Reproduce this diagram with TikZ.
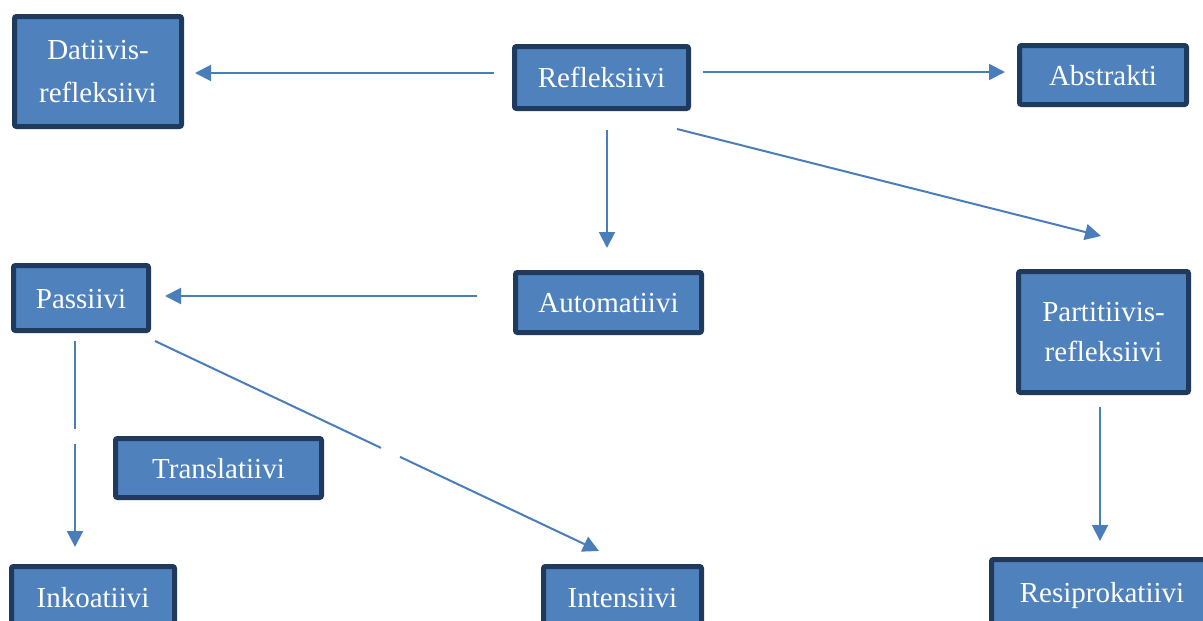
\documentclass[tikz,border=0pt]{standalone}
\usepackage{fontspec}
\setmainfont{Liberation Serif}
\usetikzlibrary{calc,arrows.meta}
\definecolor{boxfill}{HTML}{4F81BD}
\definecolor{boxline}{HTML}{1F3A5C}
\definecolor{arrowcol}{HTML}{4A7EBB}
\begin{document}
\begin{tikzpicture}[x=1pt,y=-1pt,
  box/.style={draw=boxline,fill=boxfill,line width=5pt,rounded corners=2pt,
    text=white,font=\fontsize{29}{40}\selectfont,inner sep=0pt},
  one/.style={box,text height=20pt,text depth=0pt},
  two/.style={box,align=center},
  arr/.style={draw=arrowcol,line width=2pt,-{Triangle[length=16pt,width=16pt]}}]
\useasboundingbox (0,0) rectangle (1203,621);
\fill[white] (0,0) rectangle (1203,621);
\node[two,minimum width=167pt,minimum height=110pt] (dat) at (98,71.5) {Datiivis-\\[3pt]refleksiivi};
\node[one,minimum width=174pt,minimum height=62pt] (refl) at (601.5,77.5) {Refleksiivi};
\node[one,minimum width=167pt,minimum height=59pt] (abs) at (1103,75) {Abstrakti};
\node[one,minimum width=186pt,minimum height=60pt] (auto) at (608.5,302.5) {Automatiivi};
\node[one,minimum width=135pt,minimum height=65pt] (pass) at (81,298) {Passiivi};
\node[two,minimum width=170pt,minimum height=121pt] (part) at (1103.5,332) {Partitiivis-\\refleksiivi};
\node[one,minimum width=206pt,minimum height=59pt] (trans) at (218.5,468) {Translatiivi};
\node[one,minimum width=163pt,minimum height=62pt] (ink) at (93,597.5) {Inkoatiivi};
\node[one,minimum width=158pt,minimum height=62pt] (int) at (622.5,597.5) {Intensiivi};
\node[one,minimum width=221pt,minimum height=65pt] (res) at (1102,592) {Resiprokatiivi};
\draw[arr] ($(refl.west)+(-18,-4.5)$) -- ($(dat.east)+(11,1.5)$);
\draw[arr] ($(refl.east)+(12,-5.5)$) -- ($(abs.west)+(-12,-3)$);
\draw[arr] ($(refl.south)+(5.5,19)$) -- ($(auto.north)+(-1.5,-22)$);
\draw[arr] ($(refl.south east)+(-14,18)$) -- ($(part.north)+(-2.5,-33)$);
\draw[arr] ($(auto.west)+(-36,-6.5)$) -- ($(pass.east)+(14,-2)$);
\draw[arr,dash pattern=on 88pt off 15pt on 300pt] ($(pass.south)+(-6,8)$) -- ($(ink.north)+(-18,-17)$);
\draw[arr,dash pattern=on 250pt off 21pt on 400pt] ($(pass.south east)+(4,8)$) -- ($(int.north)+(-23.5,-13)$);
\draw[arr] ($(part.south)+(-3.5,12)$) -- ($(res.north)+(-2,-16)$);
\end{tikzpicture}
\end{document}
